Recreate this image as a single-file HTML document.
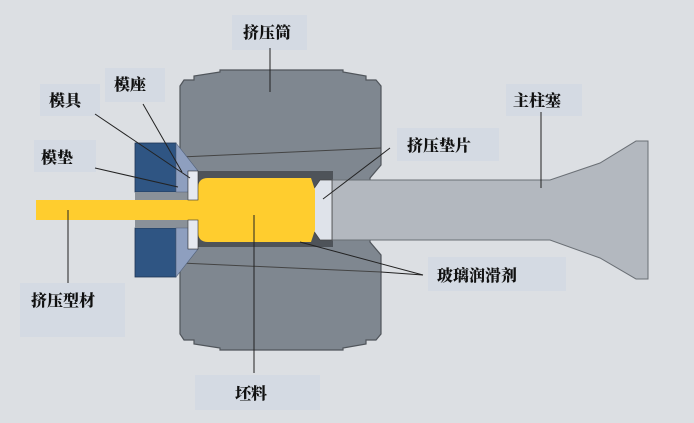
<!DOCTYPE html>
<html><head><meta charset="utf-8"><style>
html,body{margin:0;padding:0;background:#dcdfe3;}
svg{display:block}
text{font-family:"Liberation Serif","Noto Serif CJK SC",serif;font-weight:900;font-size:16px;fill:#111;}
</style></head><body>
<svg width="694" height="423" viewBox="0 0 694 423" xmlns="http://www.w3.org/2000/svg">
<rect width="694" height="423" fill="#dcdfe3"/>
<g fill="#d4dae3">
<rect x="232" y="15" width="75" height="35"/>
<rect x="105" y="68" width="60" height="34"/>
<rect x="40" y="84" width="60" height="32"/>
<rect x="34" y="140" width="62" height="32"/>
<rect x="397" y="128" width="102" height="33"/>
<rect x="506" y="84" width="76" height="32"/>
<rect x="428" y="257" width="138" height="34"/>
<rect x="20" y="283" width="105" height="54"/>
<rect x="195" y="375" width="125" height="35"/>
</g>
<path d="M180,86 L184,80 L194,80 L194,76 L220,72 L220,70 L343,70 L343,72 L366,76 L366,80 L376,80 L381,86 L381,165 L370,178 L370,242 L381,255 L381,334 L376,340 L366,340 L366,344 L343,348 L343,350 L220,350 L220,348 L194,344 L194,340 L184,340 L180,334 Z" fill="#7f8790" stroke="#50555b" stroke-width="1.2"/>
<line x1="181" y1="157" x2="381" y2="148" stroke="#444" stroke-width="1"/>
<line x1="181" y1="263" x2="381" y2="272" stroke="#444" stroke-width="1"/>
<rect x="198" y="171" width="135" height="76" fill="#4e5359"/>
<path d="M332,180 L550,180 L600,163 L636,141 L648,141 L648,279 L636,279 L600,258 L550,240 L332,240 Z" fill="#b3b8bf" stroke="#6a6f75" stroke-width="1"/>
<path d="M320,180 L332,180 L332,240 L320,240 L313,230 L313,190 Z" fill="#dfe3ea" stroke="#444" stroke-width="0.8"/>
<path d="M208,178 L311,178 L315,190 L315,230 L311,242 L208,242 Q198,242 198,232 L198,188 Q198,178 208,178 Z" fill="#ffcd2e"/>
<rect x="36" y="200" width="164" height="20" fill="#ffcd2e"/>
<rect x="135" y="143" width="41" height="49" fill="#2f5583" stroke="#1e3555" stroke-width="0.8"/>
<rect x="135" y="228" width="41" height="49" fill="#2f5583" stroke="#1e3555" stroke-width="0.8"/>
<rect x="135" y="192" width="53" height="8" fill="#8a9199"/>
<rect x="135" y="220" width="53" height="8" fill="#8a9199"/>
<path d="M176,143 L198,171 L188,171 L188,192 L176,192 Z" fill="#8e9fbf" stroke="#50607a" stroke-width="0.6"/>
<path d="M176,277 L198,249 L188,249 L188,228 L176,228 Z" fill="#8e9fbf" stroke="#50607a" stroke-width="0.6"/>
<rect x="188" y="171" width="10" height="29" fill="#e6e9f0" stroke="#333" stroke-width="0.6"/>
<rect x="188" y="220" width="10" height="29" fill="#e6e9f0" stroke="#333" stroke-width="0.6"/>
<g stroke="#222" stroke-width="1">
<line x1="270" y1="48" x2="270" y2="92"/>
<line x1="143" y1="104" x2="182" y2="172"/>
<line x1="95" y1="114" x2="190" y2="178"/>
<line x1="95" y1="168" x2="178" y2="187"/>
<line x1="390" y1="148" x2="323" y2="199"/>
<line x1="541" y1="112" x2="541" y2="188"/>
<line x1="300" y1="242" x2="423" y2="275"/>
<line x1="381" y1="272" x2="423" y2="275"/>
<line x1="68" y1="210" x2="68" y2="283"/>
<line x1="254" y1="215" x2="254" y2="373"/>
</g>
<text x="243" y="38">挤压筒</text>
<text x="114" y="90">模座</text>
<text x="49" y="106">模具</text>
<text x="41" y="163">模垫</text>
<text x="407" y="151">挤压垫片</text>
<text x="513" y="106">主柱塞</text>
<text x="437" y="281">玻璃润滑剂</text>
<text x="31" y="306">挤压型材</text>
<text x="235" y="399">坯料</text>
</svg>
</body></html>
